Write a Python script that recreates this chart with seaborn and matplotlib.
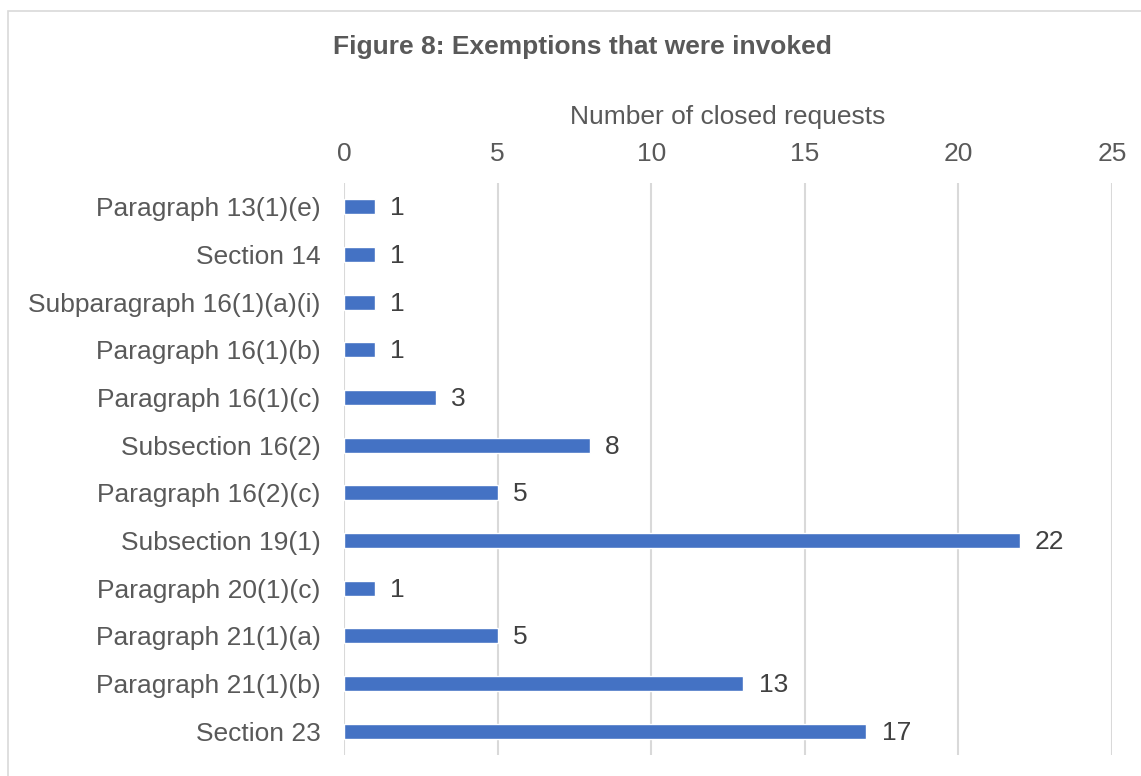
import matplotlib
matplotlib.use("Agg")
import matplotlib.pyplot as plt
import seaborn as sns
import pandas as pd
from matplotlib.patches import Rectangle

categories = [
    "Paragraph 13(1)(e)",
    "Section 14",
    "Subparagraph 16(1)(a)(i)",
    "Paragraph 16(1)(b)",
    "Paragraph 16(1)(c)",
    "Subsection 16(2)",
    "Paragraph 16(2)(c)",
    "Subsection 19(1)",
    "Paragraph 20(1)(c)",
    "Paragraph 21(1)(a)",
    "Paragraph 21(1)(b)",
    "Section 23",
]
counts = [1, 1, 1, 1, 3, 8, 5, 22, 1, 5, 13, 17]
x_ticks = [0, 5, 10, 15, 20, 25]

sns.set_theme(style="white")
plt.rcParams["font.family"] = ["Liberation Sans", "DejaVu Sans"]

df = pd.DataFrame({"category": categories, "count": counts})

W, H = 1141, 776
fig = plt.figure(figsize=(W / 100, H / 100), dpi=100)
ax = fig.add_axes([344 / W, 1 - 755 / H, (1112 - 344) / W, (755 - 183) / H])

sns.barplot(data=df, x="count", y="category", orient="h", color="#4472C4",
            width=0.31, saturation=1, ax=ax, order=categories)

fs = 19
ax.set_xlim(0, 25)
ax.set_ylim(11.5, -0.5)
ax.set_xticks(x_ticks)
ax.xaxis.tick_top()
ax.xaxis.set_label_position("top")
ax.set_xlabel("Number of closed requests", fontsize=fs, color="#595959", labelpad=13)
ax.set_ylabel("")
ax.tick_params(axis="x", length=0, pad=12, labelsize=fs, labelcolor="#595959")
ax.tick_params(axis="y", length=0, pad=17, labelsize=fs, labelcolor="#595959")
ax.grid(axis="x", color="#D9D9D9", linewidth=1.5)
ax.set_axisbelow(True)
for s in ax.spines.values():
    s.set_visible(False)

for i, v in enumerate(counts):
    ax.annotate(str(v), xy=(v, i), xytext=(11, -1), textcoords="offset points",
                ha="left", va="center", fontsize=fs, color="#404040")

fig.text(582 / W, 1 - 47 / H, "Figure 8: Exemptions that were invoked",
         ha="center", va="center", fontsize=19, fontweight="bold", color="#595959")

fig.patches.append(Rectangle((8 / W, -0.05), 1.2, 1 - 11 / H + 0.05,
                             transform=fig.transFigure, fill=False,
                             edgecolor="#D9D9D9", linewidth=1.2))

fig.savefig("out.png", dpi=100)
